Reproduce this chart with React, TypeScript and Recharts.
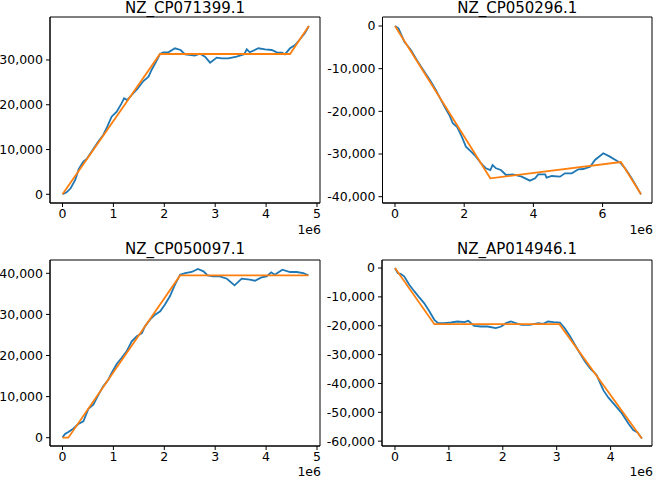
import React from "react";
import { LineChart, Line, XAxis, YAxis, Label, ReferenceArea } from "recharts";

type Pt = [number, number];

// positions are in Mbp (axis shows the 1e6 offset), values are cumulative skew
const cp071399Skew: Pt[] = [
  [0, 0], [0.08, 450], [0.16, 1340], [0.25, 3200], [0.32, 5650], [0.41, 7300],
  [0.475, 7900], [0.57, 9500], [0.7, 11750], [0.8, 13250], [0.88, 15100],
  [0.965, 17330], [1.065, 18450], [1.16, 20300], [1.21, 21440], [1.27, 21060],
  [1.36, 22180], [1.47, 23520], [1.59, 25300], [1.69, 26270], [1.75, 27770],
  [1.84, 29620], [1.915, 31340], [1.98, 31700], [2.08, 31720], [2.21, 32600],
  [2.32, 32230], [2.41, 31270], [2.6, 30960], [2.7, 31400], [2.8, 30740],
  [2.9, 29400], [3.03, 30520], [3.13, 30370], [3.26, 30370], [3.42, 30740],
  [3.57, 31270], [3.62, 32390], [3.68, 31720], [3.85, 32610], [3.98, 32390],
  [4.11, 32230], [4.21, 31720], [4.31, 31630], [4.37, 31270], [4.47, 32610],
  [4.57, 33350], [4.67, 34690], [4.76, 35960], [4.84, 37590],
];
const cp071399Fit: Pt[] = [[0, 0], [1.915, 31340], [4.47, 31340], [4.84, 37600]];

const cp050296Skew: Pt[] = [
  [0, 0], [0.1, -540], [0.27, -3680], [0.46, -5620], [0.66, -8360], [0.85, -10700],
  [1.04, -13050], [1.18, -15000], [1.28, -16560], [1.43, -18900], [1.57, -20860],
  [1.67, -22800], [1.79, -23600], [1.91, -25550], [2.05, -28280], [2.2, -29450],
  [2.34, -30620], [2.49, -32180], [2.63, -33350], [2.755, -33750], [2.82, -32580],
  [2.92, -33350], [3.06, -33750], [3.21, -34920], [3.4, -34760], [3.55, -35080],
  [3.66, -35310], [3.9, -36250], [4.05, -35700], [4.14, -34760], [4.34, -34760],
  [4.38, -35550], [4.53, -35150], [4.77, -35310], [4.91, -34530], [5.11, -34530],
  [5.3, -33590], [5.44, -33510], [5.64, -32970], [5.78, -31400], [6.02, -29830],
  [6.21, -30620], [6.41, -31560], [6.53, -32180], [6.65, -33350], [6.84, -35700],
  [7.11, -39450],
];
const cp050296Fit: Pt[] = [[0, 0], [2.755, -35700], [6.53, -31870], [7.11, -39450]];

const cp050097Skew: Pt[] = [
  [0, 100], [0.05, 900], [0.115, 1390], [0.21, 2190], [0.31, 3330], [0.41, 3990],
  [0.51, 7060], [0.605, 8030], [0.7, 10310], [0.8, 12500], [0.9, 14110],
  [0.965, 15740], [1.065, 17930], [1.16, 19390], [1.26, 21020], [1.36, 23450],
  [1.46, 24670], [1.56, 25470], [1.62, 27100], [1.72, 28710], [1.82, 29930],
  [1.92, 30750], [2.01, 32360], [2.11, 34400], [2.21, 37230], [2.31, 39660],
  [2.41, 40070], [2.54, 40320], [2.66, 41050], [2.77, 40490], [2.85, 39510],
  [2.96, 39270], [3.09, 39270], [3.23, 38690], [3.38, 37080], [3.52, 38690],
  [3.68, 38440], [3.78, 38200], [3.91, 39020], [4.01, 39270], [4.1, 40240],
  [4.17, 39660], [4.32, 40880], [4.47, 40320], [4.6, 40320], [4.73, 40070],
  [4.83, 39510],
];
const cp050097Fit: Pt[] = [[0, 0], [0.115, 0], [2.31, 39500], [4.83, 39500]];

const ap014946Skew: Pt[] = [
  [0, 0], [0.05, -1740], [0.11, -2080], [0.17, -2900], [0.265, -5790], [0.36, -8110],
  [0.45, -10190], [0.54, -12160], [0.64, -15060], [0.73, -17950], [0.8, -19110],
  [0.915, -19110], [1.04, -18880], [1.16, -18530], [1.29, -18760], [1.36, -18300],
  [1.47, -20040], [1.595, -20270], [1.72, -20270], [1.87, -20850], [1.97, -20270],
  [2.06, -19110], [2.15, -18530], [2.28, -19340], [2.35, -19690], [2.5, -19690],
  [2.66, -19110], [2.75, -19340], [2.84, -18530], [2.94, -18760], [3.06, -18880],
  [3.15, -20850], [3.25, -23740], [3.34, -26650], [3.43, -29530], [3.525, -32420],
  [3.62, -34750], [3.74, -37070], [3.8, -39600], [3.87, -42500], [3.96, -44930],
  [4.08, -47500], [4.21, -50380], [4.33, -53860], [4.42, -56180], [4.5, -56980],
  [4.58, -59070],
];
const ap014946Fit: Pt[] = [[0, 0], [0.73, -19460], [3.05, -19460], [4.58, -59070]];

const xTicks5 = [0, 1, 2, 3, 4, 5];
const xTicksEven = [0, 2, 4, 6];
const xTicks4 = [0, 1, 2, 3, 4];
const yTicksUp30 = [0, 10000, 20000, 30000];
const yTicksUp40 = [0, 10000, 20000, 30000, 40000];
const yTicksDown40 = [0, -10000, -20000, -30000, -40000];
const yTicksDown60 = [0, -10000, -20000, -30000, -40000, -50000, -60000];

const BLUE = "#1f77b4";
const ORANGE = "#ff7f0e";
const INK = "#000";

const toRows = (pts: Pt[]) => pts.map(([pos, skew]) => ({ pos, skew }));
const fmtY = (v: number) => v.toLocaleString("en-US");

const makeOffsetLabel = (drop: number) => (props: any) => {
  const vb = props.viewBox;
  return (
    <text x={vb.x + vb.width + 1} y={vb.y + drop} textAnchor="end" fontSize={12.5} fill={INK}>
      1e6
    </text>
  );
};

type PanelProps = {
  title: string;
  curve: Pt[];
  fit: Pt[];
  xDomain: [number, number];
  yDomain: [number, number];
  xTicks: number[];
  yTicks: number[];
  left: number;
  top: number;
  yWidth: number;
  marginTop: number;
  marginRight: number;
  titleOffset: number;
  offsetDrop: number;
};

function Panel(p: PanelProps) {
  return (
    <div style={{ position: "absolute", left: p.left, top: p.top }}>
      <LineChart
        width={327}
        height={239}
        margin={{ top: p.marginTop, right: p.marginRight, bottom: 0, left: 0 }}
      >
        <XAxis
          type="number"
          dataKey="pos"
          domain={p.xDomain}
          ticks={p.xTicks}
          allowDataOverflow
          height={239 - p.marginTop - 186}
          stroke={INK}
          tickSize={4}
          tickMargin={2}
          tick={{ fill: INK, fontSize: 12.5 }}
        >
          <Label content={makeOffsetLabel(p.offsetDrop)} />
        </XAxis>
        <YAxis
          type="number"
          domain={p.yDomain}
          ticks={p.yTicks}
          allowDataOverflow
          width={p.yWidth}
          stroke={INK}
          tickSize={4}
          tickMargin={3}
          tickFormatter={fmtY}
          tick={{ fill: INK, fontSize: 12.5 }}
        />
        <ReferenceArea
          x1={p.xDomain[0]}
          x2={p.xDomain[1]}
          y1={p.yDomain[0]}
          y2={p.yDomain[1]}
          ifOverflow="visible"
          fill="none"
          fillOpacity={0}
          stroke={INK}
          strokeWidth={1}
          label={{ value: p.title, position: "top", offset: p.titleOffset, fontSize: 15, fill: INK }}
        />
        <Line
          data={toRows(p.curve)}
          dataKey="skew"
          type="linear"
          stroke={BLUE}
          strokeWidth={1.8}
          dot={false}
          isAnimationActive={false}
        />
        <Line
          data={toRows(p.fit)}
          dataKey="skew"
          type="linear"
          stroke={ORANGE}
          strokeWidth={1.8}
          dot={false}
          isAnimationActive={false}
        />
      </LineChart>
    </div>
  );
}

export default function App() {
  return (
    <div
      style={{
        position: "absolute",
        left: 0,
        top: 0,
        width: 654,
        height: 478,
        background: "#fff",
        fontFamily: "'DejaVu Sans', sans-serif",
        overflow: "hidden",
      }}
    >
      <Panel
        title="NZ_CP071399.1"
        curve={cp071399Skew}
        fit={cp071399Fit}
        xDomain={[-0.2456, 5.059]}
        yDomain={[-1943, 39600]}
        xTicks={xTicks5}
        yTicks={yTicksUp30}
        left={0}
        top={0}
        yWidth={50}
        marginTop={17}
        marginRight={7}
        titleOffset={4.5}
        offsetDrop={31}
      />
      <Panel
        title="NZ_CP050296.1"
        curve={cp050296Skew}
        fit={cp050296Fit}
        xDomain={[-0.361, 7.428]}
        yDomain={[-41480, 2109]}
        xTicks={xTicksEven}
        yTicks={yTicksDown40}
        left={327}
        top={0}
        yWidth={55.5}
        marginTop={17}
        marginRight={2}
        titleOffset={4.5}
        offsetDrop={31}
      />
      <Panel
        title="NZ_CP050097.1"
        curve={cp050097Skew}
        fit={cp050097Fit}
        xDomain={[-0.2456, 5.059]}
        yDomain={[-2020, 43240]}
        xTicks={xTicks5}
        yTicks={yTicksUp40}
        left={0}
        top={239}
        yWidth={50}
        marginTop={21}
        marginRight={7}
        titleOffset={6}
        offsetDrop={29.5}
      />
      <Panel
        title="NZ_AP014946.1"
        curve={ap014946Skew}
        fit={ap014946Fit}
        xDomain={[-0.241, 4.768]}
        yDomain={[-61675, 2780]}
        xTicks={xTicks4}
        yTicks={yTicksDown60}
        left={327}
        top={239}
        yWidth={55}
        marginTop={21}
        marginRight={2}
        titleOffset={6}
        offsetDrop={29.5}
      />
    </div>
  );
}
